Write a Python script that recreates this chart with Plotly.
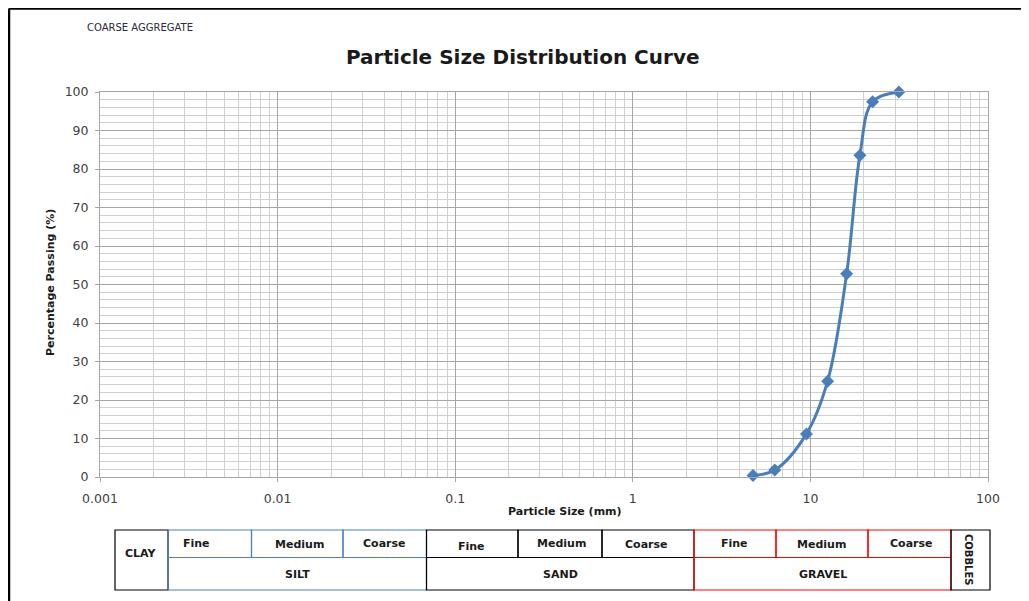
import plotly.graph_objects as go

# ---- data ----
sieve_mm = [4.75, 6.3, 9.5, 12.5, 16.0, 19.0, 22.4, 31.5]
passing_pct = [0.4, 1.8, 11.2, 24.9, 52.8, 83.6, 97.5, 100.0]

x_tickvals = [0.001, 0.01, 0.1, 1, 10, 100]
x_ticktext = ["0.001", "0.01", "0.1", "1", "10", "100"]
y_tickvals = list(range(0, 101, 10))

title_text = "Particle Size Distribution Curve"
subtitle_text = "COARSE AGGREGATE"
x_title = "Particle Size (mm)"
y_title = "Percentage Passing (%)"

groups = ["SILT", "SAND", "GRAVEL"]
subdivs = ["Fine", "Medium", "Coarse"]

# ---- layout geometry (screen pixels of the reference) ----
OFF = 8                      # default body margin of the page
W, H = 1029 - OFF, 601 - OFF
L, R, T, B = 100, 988, 92, 477
FONT = "DejaVu Sans, sans-serif"


def px(x):
    return (x - L) / (R - L)


def py(y):
    return (B - y) / (B - T)


fig = go.Figure()
fig.add_trace(go.Scatter(
    x=sieve_mm, y=passing_pct, mode="lines+markers",
    line=dict(color="#4A7EBB", width=3, shape="spline", smoothing=1.0),
    marker=dict(symbol="diamond", size=10, color="#4A7EBB"),
    showlegend=False, hoverinfo="x+y", cliponaxis=False,
))

shapes = []
annotations = []

# outer chart border (left + top)
shapes.append(dict(type="line", xref="paper", yref="paper",
                   x0=px(9), y0=py(8.5), x1=px(1040), y1=py(8.5),
                   line=dict(color="black", width=2.5)))
shapes.append(dict(type="line", xref="paper", yref="paper",
                   x0=px(9), y0=py(8.5), x1=px(9), y1=py(610),
                   line=dict(color="black", width=2.5)))


def rect(x0, y0, x1, y1, color, width=1.2):
    shapes.append(dict(type="rect", xref="paper", yref="paper",
                       x0=px(x0), y0=py(y0), x1=px(x1), y1=py(y1),
                       line=dict(color=color, width=width), fillcolor="rgba(0,0,0,0)"))


def text(x, y, s, size=11, bold=True, angle=0, color="#1a1a1a", xanchor="center"):
    annotations.append(dict(xref="paper", yref="paper", x=px(x), y=py(y),
                            text=f"<b>{s}</b>" if bold else s, showarrow=False,
                            textangle=angle, xanchor=xanchor, yanchor="middle",
                            font=dict(family=FONT, size=size, color=color)))


ty0, tmid, ty1 = 530, 557.5, 590
rect(115, ty0, 168, ty1, "black")
text(141, 553, "CLAY")
group_cells = [
    ([168, 251.5, 343, 426.5], "#4F81BD"),
    ([426.5, 518, 602, 694], "black"),
    ([694, 776, 868, 951], "#FF0000"),
]
sub_text_y = [[543, 544, 543], [546, 543, 544], [543, 544, 543]]
sub_text_x = [[196, 299, 384], [471, 561, 646], [734, 821, 911]]
for gi, (gname, (edges, col)) in enumerate(zip(groups, group_cells)):
    for si, sname in enumerate(subdivs):
        rect(edges[si], ty0, edges[si + 1], tmid, col)
        text(sub_text_x[gi][si], sub_text_y[gi][si], sname)
    rect(edges[0], tmid, edges[-1], ty1, col)
    text((edges[0] + edges[-1]) / 2, 574, gname)
rect(951, ty0, 990, ty1, "black")
text(969, 560, "COBBLES", size=10, angle=90)

text(523, 57, title_text, size=20)
text(85, 27, subtitle_text, size=10, bold=False, color="#2a2a40", xanchor="left")
text(565, 511, x_title, size=11)
text(50, 283, y_title, size=11, angle=-90)

axis_common = dict(
    showgrid=True, gridcolor="#A6A6A6", gridwidth=1,
    showline=True, linecolor="#A6A6A6", linewidth=1, mirror=True,
    ticks="outside", ticklen=4, tickcolor="#A6A6A6",
    tickfont=dict(family=FONT, size=12.5, color="#404040"),
    zeroline=False, fixedrange=True,
)

fig.update_layout(
    width=W, height=H,
    margin=dict(l=L - OFF, r=W - (R - OFF), t=T - OFF, b=H - (B - OFF), pad=0),
    paper_bgcolor="white", plot_bgcolor="white",
    font=dict(family=FONT, size=12, color="#404040"),
    shapes=shapes, annotations=annotations,
    xaxis=dict(
        type="log", range=[-3, 2], tickvals=x_tickvals, ticktext=x_ticktext,
        minor=dict(dtick="D1", showgrid=True, gridcolor="#D0D0D0", gridwidth=1, ticks=""),
        ticklabelstandoff=6,
        **axis_common,
    ),
    yaxis=dict(
        range=[0, 100], tickvals=y_tickvals,
        minor=dict(dtick=2, showgrid=True, gridcolor="#D0D0D0", gridwidth=1, ticks=""),
        ticklabelstandoff=4,
        **axis_common,
    ),
)

fig.write_html("out.html")
